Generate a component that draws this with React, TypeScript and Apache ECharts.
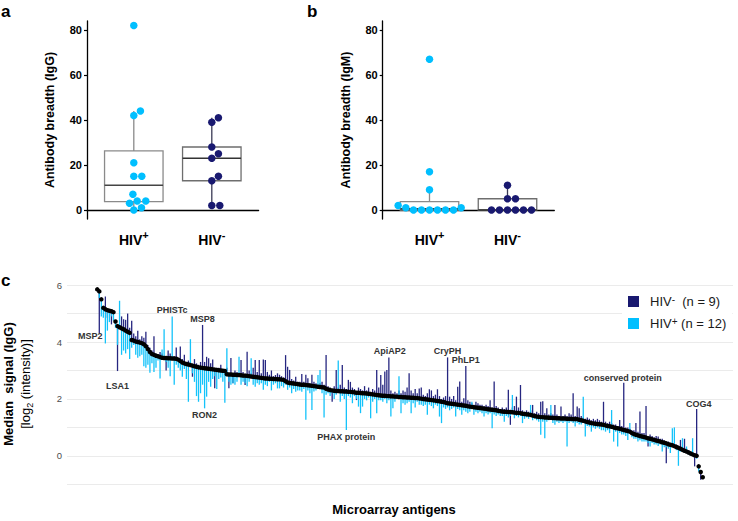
import React, { useEffect, useRef } from 'react';
import * as echarts from 'echarts';

// ---------- Panel a / b data (antibody breadth) ----------
const GROUPS = ['HIV+', 'HIV-'];
const IGG_POS = [82, 44, 42, 21, 15, 15, 7, 4, 4, 3, 1, 0];
const IGG_NEG = [41, 39, 28, 25, 23, 15, 13, 2, 2];
const IGM_POS = [67, 17, 9, 2, 1, 1, 0, 0, 0, 0, 0, 0];
const IGM_NEG = [11, 5, 5, 0, 0, 0, 0, 0, 0];
const Y_TICKS_AB = [0, 20, 40, 60, 80];

// ---------- Panel c data (median signal per antigen) ----------
const Y_TICKS_C = [0, 2, 4, 6];
const GRID_C = [-1, 0, 1, 2, 3, 4, 5, 6];

const MEDIAN = [
  5.85, 5.78, 5.5, 5.2, 5.15, 5.12, 5.1, 5.08, 5.05, 4.72,
  4.56, 4.52, 4.48, 4.45, 4.4, 4.36, 4.32, 4.07, 4.05, 4.02,
  4.0, 3.98, 3.96, 3.92, 3.85, 3.75, 3.65, 3.58, 3.55, 3.52,
  3.5, 3.47, 3.45, 3.44, 3.44, 3.43, 3.43, 3.42, 3.42, 3.41,
  3.38, 3.33, 3.28, 3.25, 3.23, 3.21, 3.19, 3.17, 3.15, 3.13,
  3.11, 3.1, 3.09, 3.08, 3.07, 3.06, 3.05, 3.04, 3.03, 3.02,
  3.01, 3.0, 2.99, 2.98, 2.87, 2.86, 2.86, 2.85, 2.85, 2.84,
  2.84, 2.83, 2.82, 2.82, 2.81, 2.8, 2.79, 2.78, 2.77, 2.76,
  2.75, 2.74, 2.73, 2.72, 2.72, 2.71, 2.71, 2.7, 2.7, 2.69,
  2.69, 2.68, 2.67, 2.62, 2.58, 2.56, 2.55, 2.54, 2.53, 2.52,
  2.51, 2.5, 2.5, 2.49, 2.48, 2.47, 2.46, 2.45, 2.44, 2.43,
  2.42, 2.41, 2.4, 2.36, 2.33, 2.31, 2.3, 2.29, 2.28, 2.28,
  2.27, 2.27, 2.26, 2.26, 2.25, 2.25, 2.24, 2.23, 2.22, 2.22,
  2.21, 2.2, 2.2, 2.19, 2.18, 2.17, 2.16, 2.15, 2.14, 2.13,
  2.12, 2.11, 2.11, 2.1, 2.1, 2.09, 2.09, 2.08, 2.08, 2.07,
  2.07, 2.06, 2.06, 2.05, 2.05, 2.04, 2.04, 2.03, 2.03, 2.02,
  2.01, 2.0, 1.99, 1.98, 1.97, 1.96, 1.95, 1.94, 1.93, 1.92,
  1.9, 1.89, 1.87, 1.85, 1.84, 1.83, 1.82, 1.81, 1.8, 1.79,
  1.78, 1.77, 1.76, 1.74, 1.73, 1.72, 1.71, 1.7, 1.69, 1.68,
  1.67, 1.66, 1.65, 1.64, 1.63, 1.62, 1.61, 1.6, 1.58, 1.57,
  1.56, 1.55, 1.55, 1.54, 1.54, 1.53, 1.52, 1.51, 1.51, 1.5,
  1.48, 1.47, 1.46, 1.45, 1.44, 1.42, 1.4, 1.38, 1.37, 1.36,
  1.36, 1.35, 1.35, 1.34, 1.34, 1.33, 1.33, 1.32, 1.32, 1.31,
  1.31, 1.31, 1.3, 1.3, 1.3, 1.29, 1.29, 1.29, 1.27, 1.25,
  1.23, 1.21, 1.19, 1.17, 1.15, 1.14, 1.13, 1.12, 1.11, 1.1,
  1.09, 1.07, 1.05, 1.04, 1.02, 1.0, 0.98, 0.97, 0.95, 0.93,
  0.91, 0.89, 0.87, 0.85, 0.8, 0.77, 0.74, 0.72, 0.7, 0.68,
  0.66, 0.64, 0.62, 0.6, 0.58, 0.56, 0.54, 0.52, 0.5, 0.48,
  0.46, 0.44, 0.41, 0.39, 0.37, 0.34, 0.31, 0.28, 0.25, 0.21,
  0.18, 0.15, 0.12, 0.08, 0.05, 0.02, 0.0, -0.37, -0.57, -0.75,
];

const NEG = [
  5.85, 4.3, 5.5, 5.2, 5.6, 4.85, 5.1, 4.62, 5.05, 4.72,
  2.98, 4.6, 4.9, 4.8, 4.78, 5.0, 4.5, 4.75, 4.3, 4.2,
  4.4, 4.1, 4.2, 4.15, 4.36, 3.9, 3.8, 3.7, 4.2, 3.6,
  3.55, 3.65, 3.6, 3.45, 3.0, 3.7, 3.6, 3.45, 3.5, 3.81,
  3.45, 3.84, 3.4, 3.55, 3.3, 3.35, 3.28, 2.78, 3.4, 3.25,
  3.2, 3.3, 4.6, 3.3, 3.48, 3.43, 3.25, 3.39, 2.38, 3.1,
  3.1, 3.2, 3.05, 3.0, 3.1, 2.38, 3.44, 2.55, 3.0, 2.95,
  2.9, 3.37, 2.95, 2.49, 3.66, 3.0, 2.9, 3.1, 3.37, 2.95,
  3.37, 2.9, 3.39, 3.37, 2.95, 2.85, 3.0, 2.8, 2.84, 2.9,
  2.85, 2.8, 2.75, 3.54, 3.13, 3.02, 2.7, 2.65, 2.78, 2.6,
  2.6, 2.88, 2.6, 2.85, 2.73, 2.55, 2.85, 2.6, 2.55, 2.5,
  2.55, 2.6, 2.5, 3.54, 2.45, 2.4, 1.9, 2.45, 3.02, 2.4,
  2.5, 3.19, 2.4, 2.35, 2.67, 2.6, 2.4, 2.35, 1.96, 2.4,
  2.35, 2.3, 2.45, 2.3, 2.4, 2.25, 2.35, 2.3, 3.02, 2.4,
  2.84, 2.5, 2.96, 3.02, 3.46, 2.3, 2.2, 2.25, 2.2, 2.3,
  2.2, 2.3, 2.25, 2.4, 2.9, 2.3, 2.2, 2.35, 2.2, 2.37,
  2.4, 2.15, 2.1, 2.2, 2.34, 2.3, 2.1, 2.15, 2.34, 2.1,
  2.0, 2.05, 2.1, 3.46, 2.08, 2.0, 2.1, 1.95, 2.43, 2.61,
  1.9, 2.02, 3.16, 1.95, 1.9, 1.85, 1.8, 1.9, 1.85, 1.8,
  1.8, 1.75, 1.8, 1.75, 1.95, 1.7, 2.61, 1.75, 1.7, 1.65,
  1.7, 1.65, 1.7, 2.32, 1.09, 1.7, 1.75, 2.08, 1.7, 2.49,
  1.6, 1.55, 1.6, 1.55, 1.6, 1.79, 1.5, 1.55, 1.5, 1.9,
  1.92, 1.5, 1.67, 1.45, 1.5, 1.45, 1.79, 1.45, 1.4, 1.73,
  1.4, 1.45, 1.4, 1.5, 1.45, 2.2, 1.4, 1.73, 1.67, 1.4,
  1.35, 1.3, 1.35, 1.3, 1.25, 1.3, 1.25, 1.3, 1.25, 1.2,
  1.9, 1.2, 1.15, 1.2, 1.15, 1.1, 1.1, 1.05, 1.26, 1.05,
  2.57, 1.0, 1.0, 0.95, 0.9, 0.9, 1.15, 0.85, 1.56, 0.8,
  0.8, 1.75, 0.33, 0.75, 0.7, 0.65, 0.7, 0.68, 0.6, 0.6,
  0.55, -0.26, 0.5, 0.45, 0.45, 0.4, 0.4, 0.35, 0.56, 0.3,
  0.6, 0.25, 0.2, 0.15, 0.1, -0.37, 1.65, -0.45, -0.84, -0.8,
];

const POS = [
  5.85, 5.55, 4.9, 4.85, 3.95, 4.4, 4.7, 4.9, 4.75, 4.5,
  3.9, 5.45, 3.55, 3.7, 3.6, 3.75, 3.4, 3.8, 3.9, 3.55,
  3.45, 3.5, 3.55, 3.15, 3.1, 3.2, 2.92, 3.25, 2.95, 3.1,
  3.35, 2.72, 3.74, 4.45, 3.3, 3.1, 2.8, 4.9, 2.5, 3.2,
  3.1, 3.0, 2.78, 3.05, 2.7, 1.9, 4.1, 2.9, 2.6, 2.1,
  1.9, 2.2, 2.5, 1.67, 2.08, 2.6, 2.43, 2.7, 2.8, 2.35,
  2.7, 2.75, 2.6, 1.87, 3.78, 2.6, 2.5, 2.55, 2.5, 2.6,
  3.48, 2.5, 2.6, 2.55, 2.45, 2.6, 3.43, 2.5, 2.43, 2.55,
  2.5, 2.55, 2.32, 2.5, 2.45, 2.6, 2.3, 2.5, 2.55, 2.37,
  2.37, 2.45, 2.4, 2.5, 2.32, 2.4, 2.2, 2.35, 2.25, 2.3,
  2.3, 2.25, 2.35, 1.27, 2.3, 2.2, 1.61, 2.26, 2.3, 2.84,
  3.02, 2.2, 1.35, 2.15, 2.2, 2.1, 2.2, 2.0, 2.15, 3.35,
  1.9, 2.1, 2.0, 0.91, 2.1, 2.05, 1.85, 2.1, 2.0, 1.73,
  1.5, 1.73, 2.0, 1.95, 2.05, 1.32, 1.9, 2.0, 1.5, 1.95,
  1.95, 1.9, 2.0, 1.85, 1.95, 1.38, 1.67, 1.9, 2.0, 2.8,
  1.5, 1.85, 1.8, 1.85, 1.9, 1.5, 1.85, 1.7, 1.9, 1.8,
  1.8, 1.75, 1.8, 1.44, 1.8, 1.75, 1.67, 1.8, 1.75, 1.38,
  1.15, 1.7, 1.65, 1.7, 1.6, 1.65, 1.7, 1.38, 1.65, 1.6,
  1.44, 1.6, 1.55, 1.5, 1.55, 1.9, 1.44, 1.55, 1.5, 1.55,
  1.5, 1.38, 1.5, 1.45, 1.5, 0.97, 1.45, 1.4, 1.45, 1.4,
  1.4, 1.2, 1.4, 1.35, 1.4, 2.14, 1.32, 1.4, 1.35, 1.4,
  1.15, 1.3, 1.35, 1.3, 1.79, 1.25, 1.3, 1.25, 1.2, 0.74,
  1.2, 0.62, 1.2, 1.25, 1.79, 1.15, 1.09, 1.2, 1.15, 1.2,
  1.15, 1.2, 0.33, 1.15, 1.2, 1.15, 1.03, 1.15, 1.1, 1.1,
  2.08, 0.68, 1.05, 1.03, 0.85, 1.0, 0.95, 1.0, 0.95, 0.9,
  0.9, 0.85, 0.9, 0.8, 1.61, 0.5, 0.85, 0.33, 0.8, 0.75,
  0.75, 0.7, 0.56, 1.15, 0.65, 0.6, 0.6, 0.5, 0.55, 0.5,
  0.5, 0.5, 0.45, 0.33, 0.45, 0.4, 0.4, 0.35, 0.4, 0.15,
  0.3, 0.3, 0.25, 0.1, 0.97, 1.0, 0.2, -0.35, 0.15, 0.62,
  0.1, 0.33, 0.05, 0.0, 0.62, -0.05, -0.1, -0.55, -0.62, -0.75,
];

const ANNOT = [
  { name: 'MSP2', idx: 1, group: 'neg' },
  { name: 'LSA1', idx: 10, group: 'neg' },
  { name: 'PHISTc', idx: 37, group: 'pos' },
  { name: 'MSP8', idx: 52, group: 'neg' },
  { name: 'RON2', idx: 53, group: 'pos' },
  { name: 'PHAX protein', idx: 123, group: 'pos' },
  { name: 'ApiAP2', idx: 144, group: 'neg' },
  { name: 'CryPH', idx: 173, group: 'neg' },
  { name: 'PhLP1', idx: 182, group: 'neg' },
  { name: 'conserved protein', idx: 260, group: 'neg' },
  { name: 'COG4', idx: 296, group: 'neg' },
];

const LEGEND_N = { 'HIV-': 9, 'HIV+': 12 };

// ---------- styles ----------
const SKY = '#00BFFF';
const NAVY = '#191970';
const FONT = '"Liberation Sans", Arial, Helvetica, sans-serif';
const LABEL_OFFSET: Record<string, [number, number]> = {
  MSP2: [-9, 3], LSA1: [0, 15], PHISTc: [0, -6], MSP8: [0, -6], RON2: [0, 7],
  'PHAX protein': [0, 7], ApiAP2: [1, -6], CryPH: [0, -6], PhLP1: [0, -6],
  'conserved protein': [-1, -5], COG4: [2, -5],
};
const BOX_STYLE = [
  { box: '#8a8a8a', whisker: '#8a8a8a', med: '#444444' },
  { box: '#6e6e6e', whisker: '#3a3a55', med: '#333333' },
];

function quantile(s: number[], p: number) {
  const h = (s.length - 1) * p;
  const lo = Math.floor(h);
  const hi = Math.ceil(h);
  return s[lo] + (s[hi] - s[lo]) * (h - lo);
}
function boxStats(vals: number[], x: number, g: number) {
  const s = [...vals].sort((a, b) => a - b);
  const q1 = quantile(s, 0.25), med = quantile(s, 0.5), q3 = quantile(s, 0.75);
  const iqr = q3 - q1;
  const lo = Math.min(...s.filter((v) => v >= q1 - 1.5 * iqr));
  const hi = Math.max(...s.filter((v) => v <= q3 + 1.5 * iqr));
  return [x, lo, q1, med, q3, hi, g];
}
// beeswarm-like dodge so that points of equal value do not overlap
function swarm(vals: number[], center: number, pxX: number, pxY: number, d: number) {
  const placed: { dx: number; y: number }[] = [];
  const order = vals.map((_, i) => i).sort((a, b) => vals[a] - vals[b]);
  const out: number[][] = new Array(vals.length);
  for (const i of order) {
    const y = vals[i] * pxY;
    const iv: [number, number][] = [];
    for (const p of placed) {
      const dy = Math.abs(y - p.y);
      if (dy < d) {
        const w = Math.sqrt(d * d - dy * dy);
        iv.push([p.dx - w, p.dx + w]);
      }
    }
    const cands = [0];
    iv.forEach(([a, b]) => cands.push(a, b));
    const ok = cands.filter((c) => iv.every(([a, b]) => c <= a + 1e-6 || c >= b - 1e-6));
    ok.sort((a, b) => Math.abs(a) - Math.abs(b) || b - a);
    const dx = ok[0];
    placed.push({ dx, y });
    out[i] = [center + dx / pxX, vals[i]];
  }
  return out;
}

function boxRender(params: any, api: any) {
  const x = api.value(0);
  const st = BOX_STYLE[api.value(6)];
  const hw = 0.375;
  const tl = api.coord([x - hw, api.value(4)]);
  const br = api.coord([x + hw, api.value(2)]);
  const med = api.coord([x, api.value(3)]);
  const lo = api.coord([x, api.value(1)]);
  const hi = api.coord([x, api.value(5)]);
  return {
    type: 'group',
    children: [
      { type: 'line', shape: { x1: med[0], y1: hi[1], x2: med[0], y2: tl[1] }, style: { stroke: st.whisker, lineWidth: 1.3 } },
      { type: 'line', shape: { x1: med[0], y1: br[1], x2: med[0], y2: lo[1] }, style: { stroke: st.whisker, lineWidth: 1.3 } },
      { type: 'rect', shape: { x: tl[0], y: tl[1], width: br[0] - tl[0], height: br[1] - tl[1] }, style: { fill: 'none', stroke: st.box, lineWidth: 1.3 } },
      { type: 'line', shape: { x1: tl[0], y1: med[1], x2: br[0], y2: med[1] }, style: { stroke: st.med, lineWidth: 1.6 } },
    ],
  };
}

function segRender(color: string) {
  return (params: any, api: any) => {
    const a = api.coord([api.value(0), api.value(1)]);
    const b = api.coord([api.value(0), api.value(2)]);
    return { type: 'line', shape: { x1: a[0], y1: a[1], x2: b[0], y2: b[1] }, style: { stroke: color, lineWidth: 1.3 } };
  };
}

const catRich = {
  b: { fontSize: 14, fontWeight: 'bold', color: '#000', lineHeight: 22, fontFamily: FONT },
  s: { fontSize: 11, fontWeight: 'bold', color: '#000', lineHeight: 10, verticalAlign: 'top', fontFamily: FONT },
};

function panelAxes(idx: number, title: string, gap: number) {
  return {
    x: {
      type: 'value', gridIndex: idx, min: 0.4, max: 2.6,
      axisLine: { show: true, lineStyle: { color: '#000', width: 1.3 } },
      axisTick: { show: false },
      splitLine: { show: false },
      axisLabel: {
        customValues: [1, 2], margin: 10,
        formatter: (v: number) => (GROUPS[Math.round(v) - 1] === 'HIV+' ? '{b|HIV}{s|+}' : '{b|HIV}{s|-}'),
        rich: catRich,
      },
    },
    y: {
      type: 'value', gridIndex: idx, min: -4, max: 84,
      axisLine: { show: true, lineStyle: { color: '#000', width: 1.3 } },
      axisTick: { show: true, length: 3, customValues: Y_TICKS_AB, lineStyle: { color: '#000', width: 1.2 } },
      splitLine: { show: false },
      axisLabel: { customValues: Y_TICKS_AB, fontSize: 11, fontWeight: 'bold', color: '#000', margin: 5, fontFamily: FONT },
      name: title, nameLocation: 'middle', nameGap: gap, nameRotate: 90,
      nameTextStyle: { fontSize: 12.5, fontWeight: 'bold', color: '#000', fontFamily: FONT },
    },
  };
}

function buildOption() {
  const pa = panelAxes(0, 'Antibody breadth (IgG)', 31);
  const pb = panelAxes(1, 'Antibody breadth (IgM)', 30);
  const D = 8, PX = 78, PY = 2.25;
  const NC = MEDIAN.length;
  const pad = (NC - 1) * 0.05;
  return {
    animation: false,
    textStyle: { fontFamily: FONT },
    grid: [
      { left: 87, top: 21, width: 171.6, height: 198, outerBoundsMode: 'none', containLabel: false },
      { left: 382.7, top: 21, width: 171.6, height: 198, outerBoundsMode: 'none', containLabel: false },
      { left: 67, top: 280, width: 666, height: 208, outerBoundsMode: 'none', containLabel: false },
    ],
    xAxis: [
      pa.x, pb.x,
      {
        type: 'value', gridIndex: 2, min: -pad, max: NC - 1 + pad,
        axisLine: { show: false }, axisTick: { show: false }, axisLabel: { show: false }, splitLine: { show: false },
        name: 'Microarray antigens', nameLocation: 'middle', nameGap: 15,
        nameTextStyle: { fontSize: 13, fontWeight: 'bold', color: '#000', padding: [0, 12, 0, 0], fontFamily: FONT },
      },
    ],
    yAxis: [
      pa.y, pb.y,
      {
        type: 'value', gridIndex: 2, min: -1.13, max: 6.18,
        axisLine: { show: false }, axisTick: { show: false }, splitLine: { show: false },
        axisLabel: { customValues: Y_TICKS_C, fontSize: 9.5, color: '#4d4d4d', margin: 5, fontFamily: FONT },
        name: '{a|Median  signal (IgG)}\n{n|[log}{u|2}{n| (intensity)]}',
        nameLocation: 'middle', nameGap: 33, nameRotate: 90,
        nameTextStyle: {
          rich: {
            a: { fontSize: 13, fontWeight: 'bold', color: '#000', lineHeight: 17, fontFamily: FONT },
            n: { fontSize: 13, color: '#000', lineHeight: 17, fontFamily: FONT },
            u: { fontSize: 9, color: '#000', lineHeight: 10, verticalAlign: 'bottom', fontFamily: FONT },
          },
        },
      },
    ],
    legend: {
      orient: 'vertical', left: 622, top: 286, padding: [8, 6, 8, 6],
      backgroundColor: '#fff', itemWidth: 11, itemHeight: 11, itemGap: 8, icon: 'rect',
      selectedMode: false,
      data: [
        { name: 'HIV-', itemStyle: { color: NAVY } },
        { name: 'HIV+', itemStyle: { color: SKY } },
      ],
      formatter: (name: string) =>
        name === 'HIV-'
          ? `{g| }{t|HIV}{s|-}{t|  (n = ${LEGEND_N['HIV-']})}`
          : `{g| }{t|HIV}{s|+}{t| (n = ${LEGEND_N['HIV+']})}`,
      textStyle: {
        rich: {
          g: { width: 6 },
          t: { fontSize: 13, color: '#1a1a1a', lineHeight: 15, fontFamily: FONT },
          s: { fontSize: 10, color: '#1a1a1a', lineHeight: 10, verticalAlign: 'top', fontFamily: FONT },
        },
      },
    },
    graphic: [
      { type: 'text', left: 1, top: 3, style: { text: 'a', fontSize: 17, fontWeight: 'bold', fill: '#000', fontFamily: FONT } },
      { type: 'text', left: 307, top: 3, style: { text: 'b', fontSize: 17, fontWeight: 'bold', fill: '#000', fontFamily: FONT } },
      { type: 'text', left: 1, top: 272, style: { text: 'c', fontSize: 17, fontWeight: 'bold', fill: '#000', fontFamily: FONT } },
    ],
    series: [
      // panel a
      {
        type: 'custom', name: 'box-a', xAxisIndex: 0, yAxisIndex: 0, renderItem: boxRender, z: 2,
        encode: { x: 0, y: [1, 2, 3, 4, 5] },
        data: [boxStats(IGG_POS, 1, 0), boxStats(IGG_NEG, 2, 1)],
      },
      { type: 'scatter', name: 'a+', xAxisIndex: 0, yAxisIndex: 0, symbolSize: 7.5, itemStyle: { color: SKY, opacity: 1 }, z: 3, data: swarm(IGG_POS, 1, PX, PY, D) },
      { type: 'scatter', name: 'a-', xAxisIndex: 0, yAxisIndex: 0, symbolSize: 7.5, itemStyle: { color: NAVY, opacity: 1 }, z: 3, data: swarm(IGG_NEG, 2, PX, PY, D) },
      // panel b
      {
        type: 'custom', name: 'box-b', xAxisIndex: 1, yAxisIndex: 1, renderItem: boxRender, z: 2,
        encode: { x: 0, y: [1, 2, 3, 4, 5] },
        data: [boxStats(IGM_POS, 1, 0), boxStats(IGM_NEG, 2, 1)],
      },
      { type: 'scatter', name: 'b+', xAxisIndex: 1, yAxisIndex: 1, symbolSize: 7.5, itemStyle: { color: SKY, opacity: 1 }, z: 3, data: swarm(IGM_POS, 1, PX, PY, D) },
      { type: 'scatter', name: 'b-', xAxisIndex: 1, yAxisIndex: 1, symbolSize: 7.5, itemStyle: { color: NAVY, opacity: 1 }, z: 3, data: swarm(IGM_NEG, 2, PX, PY, D) },
      // panel c
      {
        type: 'custom', name: 'HIV-', xAxisIndex: 2, yAxisIndex: 2, z: 2,
        itemStyle: { color: NAVY },
        renderItem: segRender('#262680'),
        encode: { x: 0, y: [1, 2] },
        data: MEDIAN.map((m, i) => [i, m, NEG[i]]),
        markLine: {
          silent: true, z: 1, symbol: ['none', 'none'], label: { show: false },
          lineStyle: { color: '#ebebeb', width: 1.2, type: 'solid' },
          data: GRID_C.map((v) => ({ yAxis: v })),
        },
      },
      {
        type: 'custom', name: 'HIV+', xAxisIndex: 2, yAxisIndex: 2, z: 2,
        itemStyle: { color: SKY },
        renderItem: segRender('#14C3FA'),
        encode: { x: 0, y: [1, 2] },
        data: MEDIAN.map((m, i) => [i, m, POS[i]]),
      },
      {
        type: 'scatter', name: 'median', xAxisIndex: 2, yAxisIndex: 2, z: 3,
        symbolSize: 4.5, itemStyle: { color: '#000', opacity: 1 },
        data: MEDIAN.map((m, i) => [i, m]),
      },
      {
        type: 'custom', name: 'labels', xAxisIndex: 2, yAxisIndex: 2, z: 4,
        encode: { x: 0, y: 1 },
        data: ANNOT.map((a) => [a.idx, a.group === 'neg' ? NEG[a.idx] : POS[a.idx]]),
        renderItem: (params: any, api: any) => {
          const ann = ANNOT[params.dataIndex];
          const p = api.coord([api.value(0), api.value(1)]);
          const off = LABEL_OFFSET[ann.name] || [0, 0];
          return {
            type: 'text', x: p[0] + off[0], y: p[1] + off[1],
            style: { text: ann.name, fill: '#333', fontSize: 9, fontWeight: 'bold', fontFamily: FONT, align: 'center', verticalAlign: 'middle' },
          };
        },
      },
    ],
  };
}

export default function App() {
  const ref = useRef<HTMLDivElement>(null);
  useEffect(() => {
    document.body.style.margin = '0';
    const chart = echarts.init(ref.current as HTMLDivElement, null, { renderer: 'svg' });
    chart.setOption(buildOption() as any);
    return () => chart.dispose();
  }, []);
  return <div ref={ref} style={{ width: 738, height: 521 }} />;
}
